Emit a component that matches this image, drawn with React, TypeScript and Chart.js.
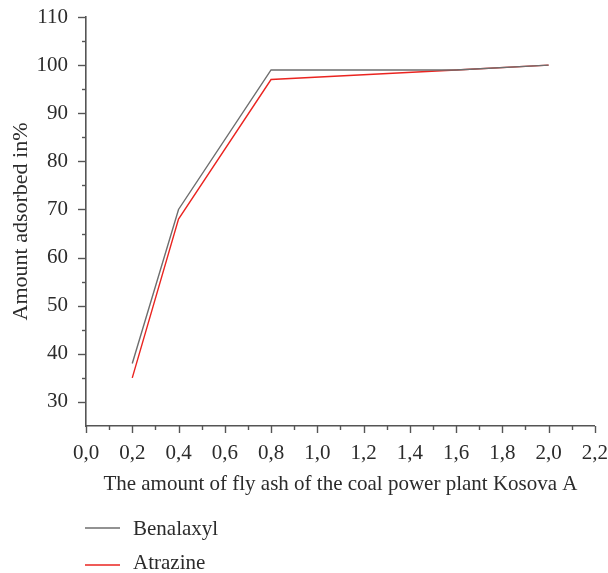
import React, { useEffect, useRef } from "react";
import { Chart, registerables } from "chart.js";

Chart.register(...registerables);

const xValues = [0.2, 0.4, 0.8, 1.6, 2.0];
const benalaxyl = [38, 70, 99, 99, 100];
const atrazine = [35, 68, 97, 99, 100];
const seriesNames = ["Benalaxyl", "Atrazine"];
const seriesColors = ["#6e6e6e", "#ea2420"];

const xTitle = "The amount of fly ash of the coal power plant Kosova A";
const yTitle = "Amount adsorbed in%";

const FONT = "'Liberation Serif', 'DejaVu Serif', serif";
const TEXT = "#2b2b2b";
const AXIS = "#555555";

const minorTicks = {
  id: "minorTicks",
  afterDraw(chart: any) {
    const ctx = chart.ctx;
    ctx.save();
    ctx.strokeStyle = AXIS;
    ctx.lineWidth = 1.4;
    const xs = chart.scales.x;
    const ys = chart.scales.y;
    xs.ticks.forEach((t: any) => {
      const major = Math.round(t.value * 10) % 2 === 0;
      const px = Math.round(xs.getPixelForValue(t.value)) + 0.5;
      const len = major ? 7 : 4;
      ctx.beginPath();
      ctx.moveTo(px, xs.top);
      ctx.lineTo(px, xs.top + len);
      ctx.stroke();
    });
    ys.ticks.forEach((t: any) => {
      if (t.value <= ys.min) return;
      const major = Math.round(t.value) % 10 === 0;
      const py = Math.round(ys.getPixelForValue(t.value)) + 0.5;
      const len = major ? 8 : 4;
      ctx.beginPath();
      ctx.moveTo(ys.right, py);
      ctx.lineTo(ys.right - len, py);
      ctx.stroke();
    });
    ctx.restore();
  },
};

// vertical legend under the plot, drawn from the datasets
const listLegend = {
  id: "listLegend",
  afterDraw(chart: any) {
    const ctx = chart.ctx;
    const left = chart.chartArea.left;
    const lineY = [520, 557];
    const baseY = [527, 561];
    ctx.save();
    chart.data.datasets.forEach((ds: any, i: number) => {
      ctx.strokeStyle = ds.borderColor;
      ctx.lineWidth = 1.6;
      ctx.beginPath();
      ctx.moveTo(left - 1, lineY[i]);
      ctx.lineTo(left + 34, lineY[i]);
      ctx.stroke();
      ctx.fillStyle = TEXT;
      ctx.font = `21px ${FONT}`;
      ctx.textBaseline = "alphabetic";
      ctx.textAlign = "left";
      ctx.fillText(ds.label, left + 47, baseY[i]);
    });
    ctx.restore();
  },
};

export default function App() {
  const ref = useRef<HTMLCanvasElement | null>(null);

  useEffect(() => {
    if (!ref.current) return;
    const mk = (vals: number[]) => xValues.map((x, i) => ({ x, y: vals[i] }));
    const chart = new Chart(ref.current, {
      type: "line",
      data: {
        datasets: [
          {
            label: seriesNames[0],
            data: mk(benalaxyl),
            borderColor: seriesColors[0],
            borderWidth: 1.4,
            pointRadius: 0,
            tension: 0,
          },
          {
            label: seriesNames[1],
            data: mk(atrazine),
            borderColor: seriesColors[1],
            borderWidth: 1.4,
            pointRadius: 0,
            tension: 0,
          },
        ],
      },
      options: {
        animation: false,
        responsive: false,
        maintainAspectRatio: false,
        layout: { padding: { left: 0, right: 0, top: 9, bottom: 76 } },
        plugins: {
          legend: { display: false },
          tooltip: { enabled: false },
        },
        scales: {
          x: {
            type: "linear",
            min: 0,
            max: 2.2,
            afterFit: (s: any) => {
              s.height = 71;
            },
            border: { color: AXIS, width: 1.6 },
            grid: {
              drawOnChartArea: false,
              drawTicks: true,
              tickLength: 15,
              color: "rgba(0,0,0,0)",
            },
            ticks: {
              stepSize: 0.1,
              autoSkip: false,
              maxRotation: 0,
              padding: 0,
              color: TEXT,
              font: { family: FONT, size: 21 },
              callback: (v: any) => {
                const n = Math.round(Number(v) * 10);
                return n % 2 === 0 ? (n / 10).toFixed(1).replace(".", ",") : "";
              },
            },
            title: {
              display: true,
              text: xTitle,
              color: TEXT,
              font: { family: FONT, size: 21 },
              padding: 0,
            },
          },
          y: {
            type: "linear",
            min: 25,
            max: 110,
            afterFit: (s: any) => {
              s.width = 78;
            },
            border: { color: AXIS, width: 1.6 },
            grid: {
              drawOnChartArea: false,
              drawTicks: true,
              tickLength: 17,
              color: "rgba(0,0,0,0)",
            },
            ticks: {
              stepSize: 5,
              autoSkip: false,
              padding: 1,
              color: TEXT,
              font: { family: FONT, size: 21, lineHeight: 0.7 },
              callback: (v: any) => {
                const n = Math.round(Number(v));
                return n % 10 === 0 ? String(n) : "";
              },
            },
            title: {
              display: true,
              text: yTitle,
              color: TEXT,
              font: { family: FONT, size: 22 },
              padding: 0,
            },
          },
        },
      },
      plugins: [minorTicks, listLegend],
    });
    return () => chart.destroy();
  }, []);

  return (
    <div
      style={{
        position: "fixed",
        left: 0,
        top: 0,
        width: 608,
        height: 573,
        overflow: "hidden",
        background: "#ffffff",
      }}
    >
      <canvas
        ref={ref}
        width={600}
        height={565}
        style={{ position: "absolute", left: 8, top: 8, display: "block" }}
      />
    </div>
  );
}
